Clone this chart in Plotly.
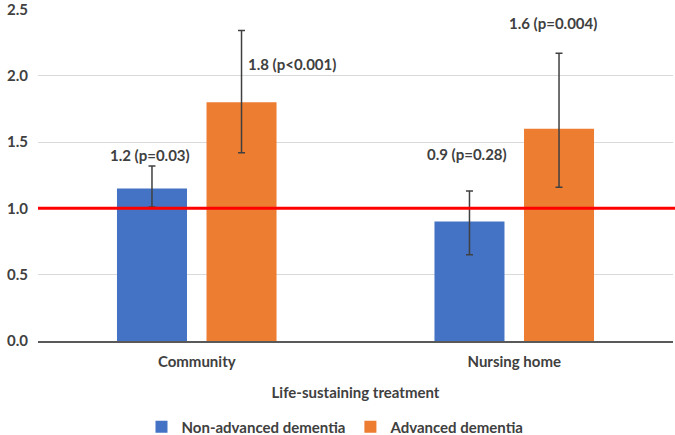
import plotly.graph_objects as go

categories = ["Community", "Nursing home"]
series_names = ["Non-advanced dementia", "Advanced dementia"]
non_adv = [1.15, 0.90]
non_adv_hi = [1.32, 1.13]
non_adv_lo = [1.01, 0.65]
adv = [1.80, 1.60]
adv_hi = [2.34, 2.17]
adv_lo = [1.42, 1.16]
labels_non = ["1.2 (p=0.03)", "0.9 (p=0.28)"]
labels_adv = ["1.8 (p<0.001)", "1.6 (p=0.004)"]
label_y_non = [1.40, 1.41]
label_y_adv = [2.09, 2.40]
ref_value = 1.0
y_ticks = [0.0, 0.5, 1.0, 1.5, 2.0, 2.5]

FONT = "Lato"
TXT = "#404040"
FS = 15

fig = go.Figure()
for name, vals, hi, lo, color in [
    (series_names[0], non_adv, non_adv_hi, non_adv_lo, "#4472C4"),
    (series_names[1], adv, adv_hi, adv_lo, "#ED7D31"),
]:
    fig.add_trace(go.Bar(
        x=categories, y=vals, name=name,
        marker=dict(color=color, line=dict(width=0)),
        error_y=dict(type="data", symmetric=False,
                     array=[h - v for h, v in zip(hi, vals)],
                     arrayminus=[v - l for v, l in zip(vals, lo)],
                     color="#404040", thickness=1.5, width=3.5),
    ))

annotations = []
for i, c in enumerate(categories):
    annotations.append(dict(x=c, y=label_y_non[i], text="<b>%s</b>" % labels_non[i],
                            xref="x", yref="y", showarrow=False, xshift=-47,
                            font=dict(family=FONT, size=FS, color=TXT)))
for i, c in enumerate(categories):
    shift = 95 if i == 0 else 39
    annotations.append(dict(x=c, y=label_y_adv[i], text="<b>%s</b>" % labels_adv[i],
                            xref="x", yref="y", showarrow=False, xshift=shift,
                            font=dict(family=FONT, size=FS, color=TXT)))

fig.add_shape(type="line", xref="paper", yref="y", x0=0, x1=1.01,
              y0=ref_value, y1=ref_value, line=dict(color="#FF0000", width=3))

fig.update_layout(
    width=675, height=435,
    margin=dict(l=38, r=2, t=9, b=94, autoexpand=False),
    paper_bgcolor="white", plot_bgcolor="white",
    barmode="group", bargap=0.436, bargroupgap=0.218,
    font=dict(family=FONT, size=FS, color=TXT),
    showlegend=True,
    legend=dict(orientation="h", x=0.4685, xref="paper", xanchor="center",
                y=-0.259, yref="paper", yanchor="middle",
                font=dict(family=FONT, size=FS, color=TXT, weight="bold"),
                itemwidth=30, traceorder="normal"),
    annotations=annotations,
    xaxis=dict(title=dict(text="<b>Life-sustaining treatment</b>", standoff=19,
                          font=dict(family=FONT, size=FS, color=TXT)),
               tickfont=dict(family=FONT, size=FS, color=TXT, weight="bold"),
               showline=True, linecolor="#595959", linewidth=1.5,
               ticks="outside", ticklen=6, tickcolor="rgba(0,0,0,0)",
               showgrid=False, automargin=False),
    yaxis=dict(range=[0, 2.503], tickvals=y_ticks, tickformat=".1f",
               tickfont=dict(family=FONT, size=FS, color=TXT, weight="bold"),
               showgrid=True, gridcolor="#D9D9D9", gridwidth=1,
               zeroline=False, showline=False, ticks="", ticklabelstandoff=9,
               ticklabeloverflow="allow", automargin=False),
)

fig.write_html("out.html", config={"displayModeBar": False},
               post_script="document.body.style.margin='0';")
